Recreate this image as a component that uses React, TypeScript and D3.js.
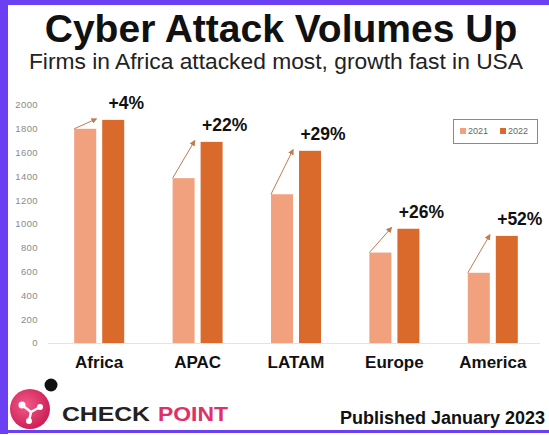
import React from 'react';
import * as d3 from 'd3';

const categories = ['Africa', 'APAC', 'LATAM', 'Europe', 'America'];
const seriesNames = ['2021', '2022'];
const values2021 = [1800, 1385, 1250, 760, 590];
const values2022 = [1875, 1690, 1615, 960, 900];
const growthLabels = ['+4%', '+22%', '+29%', '+26%', '+52%'];
const yTicks = [0, 200, 400, 600, 800, 1000, 1200, 1400, 1600, 1800, 2000];

const W = 549;
const H = 435;
const COLORS = ['#f2a17f', '#d96a2b'];
const PURPLE = '#6b3ff2';
const FONT = "'Liberation Sans', Arial, sans-serif";

export default function App() {
  const x = d3.scaleBand<string>().domain(categories).range([50, 542]).paddingInner(0).paddingOuter(0);
  const xs = d3.scaleBand<string>().domain(seriesNames).range([-25, 25]).paddingInner(0.2143).paddingOuter(0);
  const y = d3.scaleLinear().domain([0, 2000]).range([343, 105]);
  const bw = xs.bandwidth();

  return (
    <svg width={W} height={H} style={{ position: 'absolute', left: 0, top: 0, background: '#fff' }} fontFamily={FONT}>
      <defs>
        <marker id="arr" viewBox="0 0 10 10" refX="8" refY="5" markerWidth="6" markerHeight="6" orient="auto">
          <path d="M0,0 L10,5 L0,10 z" fill="#c27a4e" />
        </marker>
        <radialGradient id="pinkg" cx="40%" cy="40%" r="70%">
          <stop offset="0%" stopColor="#f25a8a" />
          <stop offset="100%" stopColor="#c81850" />
        </radialGradient>
      </defs>
      <rect x={0} y={0} width={W} height={H} fill="#fff" />
      {/* border */}
      <rect x={0} y={0} width={W} height={5} fill={PURPLE} />
      <rect x={0} y={0} width={8} height={434} fill={PURPLE} />
      <rect x={0} y={430} width={W} height={3} fill={PURPLE} />

      {/* titles */}
      <text x={281} y={42} textAnchor="middle" fontSize={39} fontWeight="bold" fill="#111">Cyber Attack Volumes Up</text>
      <text x={276} y={69} textAnchor="middle" fontSize={22.8} fill="#222">Firms in Africa attacked most, growth fast in USA</text>

      {/* y ticks */}
      {yTicks.map((t) => (
        <text key={t} x={38} y={y(t)} dy="0.35em" textAnchor="end" fontSize={9.5} fill="#8a8a8a" letterSpacing={0.4}>{t}</text>
      ))}
      <line x1={48} x2={540} y1={y(0) + 0.5} y2={y(0) + 0.5} stroke="#e3e3e3" strokeWidth={1} />

      {/* bars */}
      {categories.map((c, i) => {
        const cx = (x(c) as number) + x.bandwidth() / 2;
        const x1 = cx + (xs('2021') as number);
        const x2 = cx + (xs('2022') as number);
        return (
          <g key={c}>
            <rect x={x1} y={y(values2021[i])} width={bw} height={y(0) - y(values2021[i])} fill={COLORS[0]} />
            <rect x={x2} y={y(values2022[i])} width={bw} height={y(0) - y(values2022[i])} fill={COLORS[1]} />
            <line x1={x1} y1={y(values2021[i])} x2={x1 + bw} y2={y(values2022[i]) - 1} stroke="#c27a4e" strokeWidth={1} markerEnd="url(#arr)" />
            <text x={x2 + bw + 2} y={y(values2022[i]) - 11} textAnchor="middle" fontSize={17.5} fontWeight="bold" fill="#111">{growthLabels[i]}</text>
            <text x={cx} y={368} textAnchor="middle" fontSize={17} fontWeight="bold" fill="#111">{c}</text>
          </g>
        );
      })}

      {/* legend */}
      <rect x={453.5} y={119.5} width={84} height={24} fill="#fff" stroke="#8a8a8a" strokeWidth={1} />
      {seriesNames.map((s, i) => (
        <g key={s} transform={`translate(${460 + i * 40},128)`}>
          <rect x={0} y={0} width={6} height={6} fill={COLORS[i]} />
          <text x={8} y={6} fontSize={9} fill="#666">{s}</text>
        </g>
      ))}

      {/* logo */}
      <circle cx={30} cy={409} r={20} fill="url(#pinkg)" />
      <g stroke="#fff" strokeWidth={2.5} fill="none">
        <line x1={22} y1={405} x2={31} y2={412} />
        <line x1={31} y1={412} x2={40} y2={407} />
        <line x1={31} y1={412} x2={29} y2={421} />
      </g>
      <circle cx={22} cy={405} r={3.5} fill="#fff" />
      <circle cx={40} cy={407} r={3} fill="#fff" />
      <circle cx={29} cy={421} r={3} fill="#fff" />
      <circle cx={51} cy={385} r={6.5} fill="#111" />
      <text x={62} y={421} fontSize={21} fontWeight="bold" fill="#222" textLength={88} lengthAdjust="spacingAndGlyphs">CHECK</text>
      <text x={158} y={421} fontSize={21} fontWeight="bold" fill="#e0306a" textLength={70} lengthAdjust="spacingAndGlyphs">POINT</text>

      <text x={545} y={424} textAnchor="end" fontSize={18} fontWeight="bold" fill="#111">Published January 2023</text>
    </svg>
  );
}
